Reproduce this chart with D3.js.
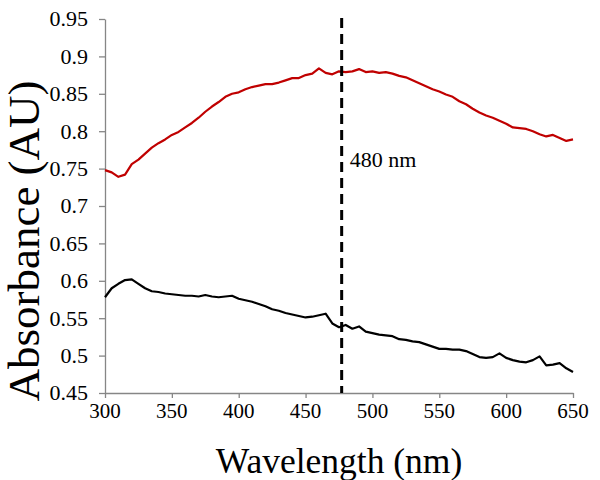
<!DOCTYPE html>
<html>
<head>
<meta charset="utf-8">
<script src="https://cdn.jsdelivr.net/npm/d3@7"></script>
<style>
  body { margin: 0; background: #fff; }
  svg { display: block; }
  svg text { font-family: "Liberation Serif", "Times New Roman", serif; }
</style>
</head>
<body>
<svg id="chart" width="600" height="480"></svg>
<script>
// Data
const wavelengths = [300,305,310,315,320,325,330,335,340,345,350,355,360,365,370,375,380,385,390,395,
  400,405,410,415,420,425,430,435,440,445,450,455,460,465,470,475,480,485,490,495,
  500,505,510,515,520,525,530,535,540,545,550,555,560,565,570,575,580,585,590,595,
  600,605,610,615,620,625,630,635,640,645,650];
const redSeries = [0.748,0.745,0.739,0.742,0.756,0.762,0.770,0.778,0.784,0.789,0.795,0.799,0.805,0.811,0.818,0.826,0.833,0.839,0.846,0.850,
  0.852,0.856,0.859,0.861,0.863,0.863,0.865,0.868,0.871,0.871,0.875,0.877,0.884,0.878,0.876,0.880,0.879,0.880,0.883,0.879,
  0.880,0.878,0.879,0.877,0.874,0.872,0.868,0.864,0.860,0.856,0.853,0.849,0.846,0.840,0.836,0.830,0.825,0.821,0.818,0.814,
  0.810,0.805,0.804,0.803,0.800,0.796,0.793,0.795,0.791,0.787,0.789];
const blackSeries = [0.578,0.590,0.596,0.601,0.602,0.596,0.590,0.586,0.585,0.583,0.582,0.581,0.580,0.580,0.579,0.581,0.579,0.578,0.579,0.580,
  0.576,0.574,0.572,0.569,0.566,0.562,0.560,0.557,0.555,0.553,0.551,0.552,0.554,0.556,0.543,0.538,0.541,0.536,0.539,0.532,
  0.530,0.528,0.527,0.526,0.522,0.521,0.519,0.518,0.515,0.512,0.509,0.509,0.508,0.508,0.506,0.502,0.498,0.497,0.498,0.503,
  0.497,0.494,0.492,0.491,0.494,0.499,0.487,0.488,0.490,0.483,0.478];
const xTicks = [300,350,400,450,500,550,600,650];
const yTicks = [0.45,0.5,0.55,0.6,0.65,0.7,0.75,0.8,0.85,0.9,0.95];
const xTickLabels = ["300","350","400","450","500","550","600","650"];
const yTickLabels = ["0.45","0.5","0.55","0.6","0.65","0.7","0.75","0.8","0.85","0.9","0.95"];
const markerWavelength = 477;
const markerLabel = "480 nm";
const xTitle = "Wavelength (nm)";
const yTitle = "Absorbance (AU)";

const FONT = '"Liberation Serif", "Times New Roman", serif';
const svg = d3.select("#chart");
const mLeft = 105, mRight = 573, mTop = 19, mBottom = 393;

const x = d3.scaleLinear().domain([300, 650]).range([mLeft, mRight]);
const y = d3.scaleLinear().domain([0.45, 0.95]).range([mBottom, mTop]);

const axisColor = "#868686";

// Axes (lines and ticks)
const gx = svg.append("g").attr("transform", `translate(0,${mBottom})`)
  .call(d3.axisBottom(x).tickValues(xTicks).tickSize(5).tickSizeOuter(0));
const gy = svg.append("g").attr("transform", `translate(${mLeft},0)`)
  .call(d3.axisLeft(y).tickValues(yTicks).tickSize(6).tickSizeOuter(0));

[gx, gy].forEach(g => {
  g.selectAll(".tick text").remove();
  g.select(".domain").attr("stroke", axisColor).attr("stroke-width", 1.3);
  g.selectAll(".tick line").attr("stroke", axisColor).attr("stroke-width", 1.3);
});

// Tick labels, placed with the scales
svg.append("g").attr("class", "xlabels")
  .selectAll("text").data(xTicks).join("text")
  .attr("x", d => x(d)).attr("y", mBottom + 25)
  .attr("text-anchor", "middle")
  .style("font-family", FONT).style("font-size", "21px").attr("fill", "#000")
  .text((d, i) => xTickLabels[i]);

svg.append("g").attr("class", "ylabels")
  .selectAll("text").data(yTicks).join("text")
  .attr("x", mLeft - 17).attr("y", d => y(d)).attr("dy", "0.34em")
  .attr("text-anchor", "end")
  .style("font-family", FONT).style("font-size", "22px").attr("fill", "#000")
  .text((d, i) => yTickLabels[i]);

const line = d3.line().x((d, i) => x(wavelengths[i])).y(d => y(d));

svg.append("path").datum(redSeries).attr("d", line)
  .attr("fill", "none").attr("stroke", "#c00000").attr("stroke-width", 2.2).attr("stroke-linejoin", "round");
svg.append("path").datum(blackSeries).attr("d", line)
  .attr("fill", "none").attr("stroke", "#000").attr("stroke-width", 2.2).attr("stroke-linejoin", "round");

// Marker dashed line
svg.append("line")
  .attr("x1", x(markerWavelength)).attr("x2", x(markerWavelength))
  .attr("y1", y(0.95) - 1).attr("y2", y(0.45))
  .attr("stroke", "#000").attr("stroke-width", 3).attr("stroke-dasharray", "10,6");

svg.append("text").attr("x", x(markerWavelength) + 8).attr("y", 167)
  .style("font-family", FONT).style("font-size", "22px").text(markerLabel);

// Titles
svg.append("text").attr("x", (mLeft + mRight) / 2).attr("y", 473)
  .attr("text-anchor", "middle").style("font-family", FONT).style("font-size", "35.5px").text(xTitle);
svg.append("text").attr("transform", `translate(39,241) rotate(-90)`)
  .attr("text-anchor", "middle").style("font-family", FONT).style("font-size", "45px").text(yTitle);
</script>
</body>
</html>
